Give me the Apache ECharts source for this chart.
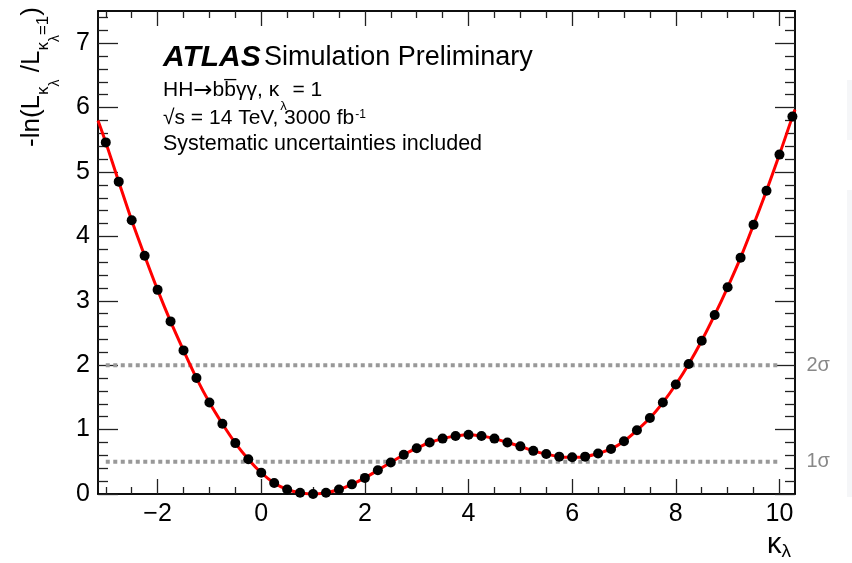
<!DOCTYPE html>
<html>
<head>
<meta charset="utf-8">
<script src="https://cdn.jsdelivr.net/npm/echarts@6/dist/echarts.min.js"></script>
<style>
  html, body { margin: 0; padding: 0; background: #fff; }
  #chart { width: 852px; height: 563px; }
</style>
</head>
<body>
<div id="chart"></div>
<script>
// kappa_lambda scan points and -ln(L/L_SM) values
const kappa = [
  -3.00, -2.75, -2.50, -2.25, -2.00, -1.75, -1.50, -1.25, -1.00, -0.75,
  -0.50, -0.25, 0.00, 0.25, 0.50, 0.75, 1.00, 1.25, 1.50, 1.75,
  2.00, 2.25, 2.50, 2.75, 3.00, 3.25, 3.50, 3.75, 4.00, 4.25,
  4.50, 4.75, 5.00, 5.25, 5.50, 5.75, 6.00, 6.25, 6.50, 6.75,
  7.00, 7.25, 7.50, 7.75, 8.00, 8.25, 8.50, 8.75, 9.00, 9.25,
  9.50, 9.75, 10.00, 10.25
];
const nll = [
  5.46, 4.85, 4.25, 3.70, 3.17, 2.68, 2.23, 1.80, 1.42, 1.09,
  0.79, 0.54, 0.33, 0.17, 0.07, 0.02, 0.00, 0.02, 0.07, 0.15,
  0.25, 0.37, 0.49, 0.61, 0.71, 0.80, 0.86, 0.90, 0.92, 0.90,
  0.86, 0.80, 0.74, 0.67, 0.62, 0.58, 0.57, 0.58, 0.63, 0.70,
  0.82, 0.99, 1.18, 1.42, 1.70, 2.02, 2.38, 2.78, 3.21, 3.67,
  4.18, 4.71, 5.27, 5.86
];
// fitted curve values at the frame edges
const curveLeft = [-3.15, 5.80];
const curveRight = [10.30, 5.97];

// confidence-level reference lines
const sigmaLevels = [0.5, 2];
const sigmaNames = ['1\u03c3', '2\u03c3'];
const sigmaSpan = [-3, 10];

// axis ranges and ticks
const xRange = [-3.15, 10.3];
const yRange = [0, 7.5];
const xMajorTicks = [-2, 0, 2, 4, 6, 8, 10];
const xMinorTicks = [-3, -2.5, -1.5, -1, -0.5, 0.5, 1, 1.5, 2.5, 3, 3.5, 4.5, 5, 5.5, 6.5, 7, 7.5, 8.5, 9, 9.5];
const yMajorTicks = [0, 1, 2, 3, 4, 5, 6, 7];
const yMinorTicks = [];
for (let i = 1; i <= 37; i++) {
  if (i % 5 !== 0) yMinorTicks.push(+(i * 0.2).toFixed(1));
}

const FONT = '"Liberation Sans", Arial, Helvetica, sans-serif';
const chart = echarts.init(document.getElementById('chart'));

function axisDef(kind, position, ticks, len, withLabels) {
  const range = kind === 'x' ? xRange : yRange;
  return {
    type: 'value',
    position: position,
    min: range[0],
    max: range[1],
    axisLine: { show: true, onZero: false, lineStyle: { color: '#000', width: 1.5 } },
    axisTick: {
      show: true, inside: true, length: len, customValues: ticks,
      lineStyle: { color: '#222', width: 1.3 }
    },
    axisLabel: withLabels ? {
      show: true, customValues: ticks, fontFamily: FONT, fontSize: 25, color: '#000',
      margin: kind === 'x' ? 8 : 8,
      formatter: v => String(v).replace('-', '\u2212')
    } : { show: false },
    splitLine: { show: false },
    minorTick: { show: false }
  };
}

const points = kappa.map((k, i) => [k, nll[i]]);
const curve = [curveLeft].concat(points, [curveRight]);

const series = [
  {
    type: 'line', data: curve, smooth: 0.35, symbol: 'none',
    lineStyle: { color: '#ff0000', width: 3 }, z: 3, silent: true
  },
  {
    type: 'scatter', data: points, symbolSize: 10,
    itemStyle: { color: '#000', opacity: 1 }, z: 4, silent: true
  }
];
sigmaLevels.forEach((lv, i) => {
  series.push({
    type: 'line', data: sigmaSpan.map(x => [x, lv]), symbol: 'none', z: 2, silent: true,
    lineStyle: { color: '#999', width: 4, type: [4, 3.5] },
    endLabel: {
      show: true, formatter: sigmaNames[i], distance: 27,
      color: '#888', fontFamily: FONT, fontSize: 20
    }
  });
});

chart.setOption({
  animation: false,
  backgroundColor: '#fff',
  grid: { left: 98, right: 57, top: 11, bottom: 69, containLabel: false, outerBoundsMode: 'none' },
  xAxis: [
    axisDef('x', 'bottom', xMajorTicks, 15, true),
    axisDef('x', 'bottom', xMinorTicks, 7, false),
    axisDef('x', 'top', xMajorTicks, 15, false),
    axisDef('x', 'top', xMinorTicks, 7, false)
  ],
  yAxis: [
    axisDef('y', 'left', yMajorTicks, 20, true),
    axisDef('y', 'left', yMinorTicks, 10, false),
    axisDef('y', 'right', yMajorTicks, 20, false),
    axisDef('y', 'right', yMinorTicks, 10, false)
  ],
  series: series,
  graphic: [
    {
      type: 'text', x: 32, y: 77, rotation: Math.PI / 2,
      style: {
        text: '{m|-ln(L}{s|\u03ba}{ss|\u03bb}{m| /L}{s|\u03ba}{ss|\u03bb}{s|=1}{m|)}',
        align: 'center', verticalAlign: 'middle',
        rich: {
          m: { fontFamily: FONT, fontSize: 26, lineHeight: 26, verticalAlign: 'top', padding: [0, 0, 0, 0], fill: '#000' },
          s: { fontFamily: FONT, fontSize: 17, lineHeight: 17, verticalAlign: 'top', padding: [16, 0, 0, 0], fill: '#000' },
          ss: { fontFamily: FONT, fontSize: 14, lineHeight: 14, verticalAlign: 'top', padding: [29, 0, 0, 0], fill: '#000' }
        }
      }
    },
    {
      type: 'text', x: 163, y: 58,
      style: {
        text: '{b|ATLAS} {r|Simulation Preliminary}',
        align: 'left', verticalAlign: 'middle',
        rich: {
          b: { fontFamily: FONT, fontSize: 30, fontWeight: 'bold', fontStyle: 'italic', fill: '#000' },
          r: { fontFamily: FONT, fontSize: 27, fill: '#000' }
        }
      }
    },
    {
      type: 'text', x: 163, y: 90,
      style: {
        text: '{m|HH}{a|\u2192}{m|bb\u0305\u03b3\u03b3, \u03ba}{s|\u03bb}{m| = 1}',
        align: 'left', verticalAlign: 'middle',
        rich: {
          m: { fontFamily: FONT, fontSize: 21, lineHeight: 21, verticalAlign: 'top', padding: [0, 0, 0, 0], fill: '#000' },
          a: { fontFamily: '"DejaVu Sans", sans-serif', fontSize: 23, lineHeight: 21, verticalAlign: 'top', padding: [0, 0, 0, 0], fill: '#000' },
          s: { fontFamily: FONT, fontSize: 13, lineHeight: 13, verticalAlign: 'top', padding: [20, 0, 0, 1], fill: '#000' }
        }
      }
    },
    {
      type: 'text', x: 163, y: 114,
      style: {
        text: '{m|\u221as = 14 TeV, 3000 fb}{p|-1}',
        align: 'left', verticalAlign: 'middle',
        rich: {
          m: { fontFamily: FONT, fontSize: 21, lineHeight: 21, verticalAlign: 'top', padding: [4, 0, 0, 0], fill: '#000' },
          p: { fontFamily: FONT, fontSize: 12, lineHeight: 12, verticalAlign: 'top', padding: [5, 0, 0, 1], fill: '#000' }
        }
      }
    },
    {
      type: 'text', x: 163, y: 144,
      style: {
        text: 'Systematic uncertainties included',
        fontFamily: FONT, fontSize: 21.5, fill: '#000',
        align: 'left', verticalAlign: 'middle'
      }
    },
    {
      type: 'text', x: 767, y: 544,
      style: {
        text: '{m|\u03ba}{s|\u03bb}',
        align: 'left', verticalAlign: 'middle',
        rich: {
          m: { fontFamily: FONT, fontSize: 29, lineHeight: 28, verticalAlign: 'top', padding: [0, 0, 0, 0], fill: '#000' },
          s: { fontFamily: FONT, fontSize: 19, lineHeight: 18, verticalAlign: 'top', padding: [12, 0, 0, 0], fill: '#000' }
        }
      }
    },
    { type: 'rect', shape: { x: 847, y: 80, width: 5, height: 60 }, style: { fill: '#f5f6f8' }, silent: true },
    { type: 'rect', shape: { x: 847, y: 190, width: 5, height: 307 }, style: { fill: '#f5f6f8' }, silent: true }
  ]
});
</script>
</body>
</html>
